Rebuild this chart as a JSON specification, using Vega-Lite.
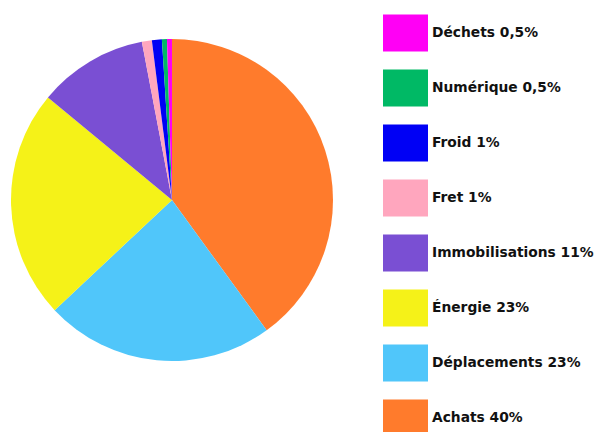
{
  "$schema": "https://vega.github.io/schema/vega-lite/v6.json",
  "width": 344,
  "height": 400,
  "padding": 0,
  "autosize": {"type": "pad"},
  "background": "white",
  "view": {"stroke": null},
  "data": {
    "values": [
      {"poste": "Achats", "label": "Achats 40%", "value": 40, "rank": 1},
      {"poste": "Déplacements", "label": "Déplacements 23%", "value": 23, "rank": 2},
      {"poste": "Énergie", "label": "Énergie 23%", "value": 23, "rank": 3},
      {"poste": "Immobilisations", "label": "Immobilisations 11%", "value": 11, "rank": 4},
      {"poste": "Fret", "label": "Fret 1%", "value": 1, "rank": 5},
      {"poste": "Froid", "label": "Froid 1%", "value": 1, "rank": 6},
      {"poste": "Numérique", "label": "Numérique 0,5%", "value": 0.5, "rank": 7},
      {"poste": "Déchets", "label": "Déchets 0,5%", "value": 0.5, "rank": 8}
    ]
  },
  "mark": {"type": "arc", "outerRadius": 161},
  "encoding": {
    "theta": {"field": "value", "type": "quantitative", "stack": true},
    "order": {"field": "rank", "type": "quantitative", "sort": "ascending"},
    "color": {
      "field": "label",
      "type": "nominal",
      "scale": {
        "domain": ["Déchets 0,5%", "Numérique 0,5%", "Froid 1%", "Fret 1%", "Immobilisations 11%", "Énergie 23%", "Déplacements 23%", "Achats 40%"],
        "range": ["#FF00F5", "#00B965", "#0000F5", "#FFA6BE", "#7A4FD3", "#F5F218", "#50C6FA", "#FF7B2C"]
      },
      "legend": {
        "title": null,
        "orient": "none",
        "legendX": 383,
        "legendY": 10.5,
        "padding": 0,
        "symbolType": "M-1,-0.82L1,-0.82L1,0.82L-1,0.82Z",
        "symbolSize": 2025,
        "symbolStrokeWidth": 0,
        "symbolOpacity": 1,
        "rowPadding": 14,
        "labelOffset": 4,
        "labelFont": "DejaVu Sans",
        "labelFontWeight": "bold",
        "labelFontSize": 13.8,
        "labelColor": "#111111",
        "labelLimit": 300
      }
    }
  }
}
